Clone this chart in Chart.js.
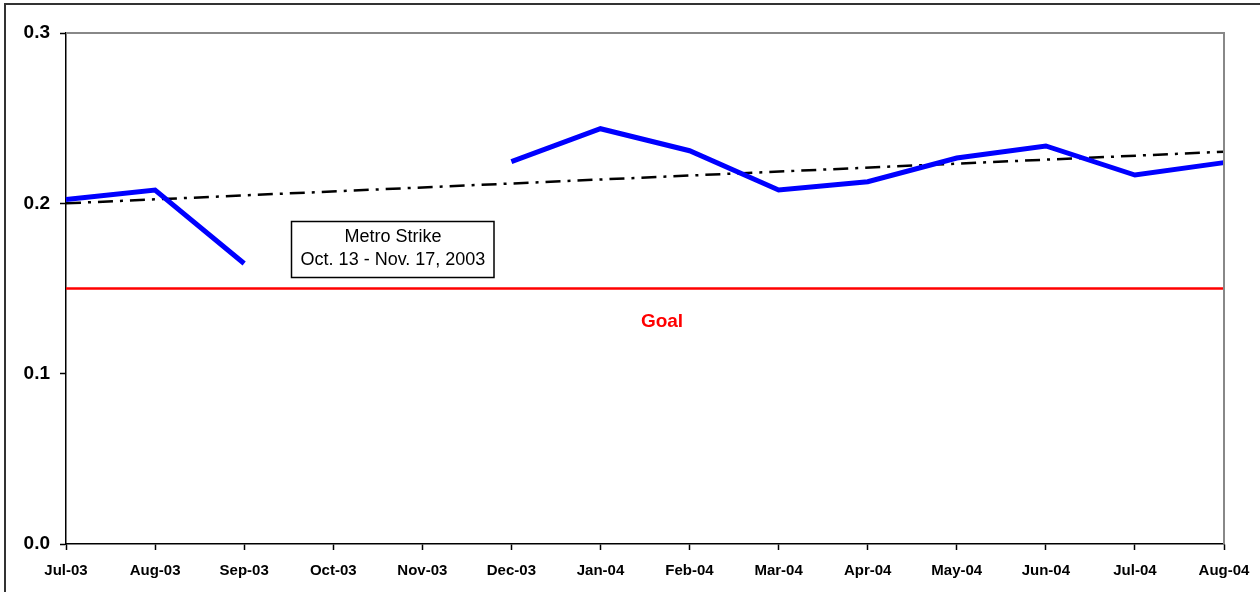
<!DOCTYPE html>
<html>
<head>
<meta charset="utf-8">
<script src="https://cdn.jsdelivr.net/npm/chart.js@4/dist/chart.umd.min.js"></script>
<style>
  html, body { margin: 0; padding: 0; background: #fff; }
  #wrap { width: 1260px; height: 592px; position: relative; }
</style>
</head>
<body>
<div id="wrap"><canvas id="chart" width="1260" height="592"></canvas></div>
<script>
// monthly values, null where the strike interrupted collection
const months = ['Jul-03', 'Aug-03', 'Sep-03', 'Oct-03', 'Nov-03', 'Dec-03', 'Jan-04',
                'Feb-04', 'Mar-04', 'Apr-04', 'May-04', 'Jun-04', 'Jul-04', 'Aug-04'];
const rate = [0.2023, 0.2078, 0.1647, null, null, 0.2245, 0.2438,
              0.2309, 0.2078, 0.2127, 0.2266, 0.2337, 0.2166, 0.2239];
const goal = 0.15;
const trendStart = 0.2000;
const trendEnd = 0.2303;
const yTicks = [0.0, 0.1, 0.2, 0.3];

const goalLine = months.map(() => goal);
const trendLine = months.map((m, i) => i === 0 ? trendStart : (i === months.length - 1 ? trendEnd : null));

const decor = {
    id: 'decor',
    beforeDraw(chart) {
        const ctx = chart.ctx;
        ctx.save();
        ctx.fillStyle = '#fff';
        ctx.fillRect(0, 0, chart.width, chart.height);
        // outer frame
        ctx.strokeStyle = '#333';
        ctx.lineWidth = 2;
        ctx.strokeRect(5, 4, chart.width + 10, chart.height + 10);
        ctx.restore();
    },
    afterDatasetsDraw(chart) {
        const ctx = chart.ctx;
        const a = chart.chartArea;
        const y = chart.scales.y;
        ctx.save();
        // top and right edges of the plot area
        ctx.strokeStyle = '#888';
        ctx.lineWidth = 2;
        ctx.beginPath();
        ctx.moveTo(a.left, a.top);
        ctx.lineTo(a.right, a.top);
        ctx.lineTo(a.right, a.bottom);
        ctx.stroke();

        // goal label
        ctx.fillStyle = '#ff0000';
        ctx.font = 'bold 19px "Liberation Sans", Arial, sans-serif';
        ctx.textAlign = 'center';
        ctx.textBaseline = 'middle';
        ctx.fillText('Goal', 662, y.getPixelForValue(goal) + 33);

        // strike note
        ctx.fillStyle = '#fff';
        ctx.fillRect(291.5, 221.5, 202.5, 56);
        ctx.strokeStyle = '#000';
        ctx.lineWidth = 1.5;
        ctx.strokeRect(291.5, 221.5, 202.5, 56);
        ctx.fillStyle = '#000';
        ctx.font = '18px "Liberation Sans", Arial, sans-serif';
        ctx.fillText('Metro Strike', 393, 237);
        ctx.fillText('Oct. 13 - Nov. 17, 2003', 393, 260);
        ctx.restore();
    }
};

new Chart(document.getElementById('chart'), {
    type: 'line',
    data: {
        labels: months,
        datasets: [
            {
                label: 'Goal',
                data: goalLine,
                borderColor: '#ff0000',
                borderWidth: 2.5,
                pointRadius: 0,
                order: 3
            },
            {
                label: 'Trend',
                data: trendLine,
                borderColor: '#000',
                borderWidth: 2.5,
                borderDash: [15, 7, 3, 7],
                spanGaps: true,
                pointRadius: 0,
                order: 2
            },
            {
                label: 'Rate',
                data: rate,
                borderColor: '#0000ff',
                borderWidth: 5,
                spanGaps: false,
                pointRadius: 0,
                tension: 0,
                order: 1
            }
        ]
    },
    options: {
        responsive: false,
        animation: false,
        layout: { padding: { top: 33, right: 36, left: 0, bottom: 0 } },
        plugins: {
            legend: { display: false },
            tooltip: { enabled: false }
        },
        scales: {
            x: {
                offset: false,
                grid: { drawOnChartArea: false, tickLength: 6, color: '#000', tickWidth: 1.5 },
                border: { color: '#000', width: 1.5 },
                ticks: {
                    color: '#000',
                    font: { family: '"Liberation Sans", Arial, sans-serif', size: 15, weight: 'bold' },
                    padding: 12,
                    maxRotation: 0,
                    autoSkip: false
                },
                afterFit(scale) {
                    scale.height = 48;
                    scale.paddingLeft = 0;
                    scale.paddingRight = 0;
                }
            },
            y: {
                min: 0,
                max: 0.3,
                grid: { drawOnChartArea: false, tickLength: 6, color: '#000', tickWidth: 1.5 },
                border: { color: '#000', width: 1.5 },
                afterBuildTicks(scale) { scale.ticks = yTicks.map(v => ({ value: v })); },
                ticks: {
                    color: '#000',
                    font: { family: '"Liberation Sans", Arial, sans-serif', size: 19, weight: 'bold' },
                    padding: 10,
                    callback: v => v.toFixed(1)
                },
                afterFit(scale) { scale.width = 66; }
            }
        }
    },
    plugins: [decor]
});
</script>
</body>
</html>
